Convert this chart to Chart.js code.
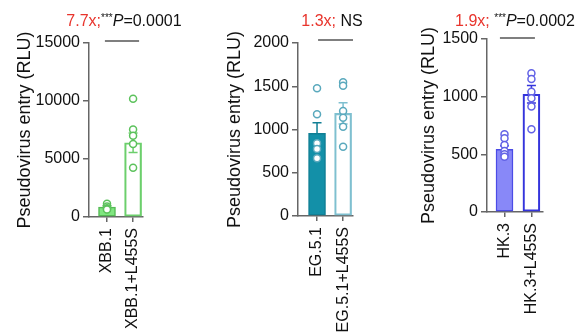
<!DOCTYPE html>
<html>
<head>
<meta charset="utf-8">
<script src="https://cdn.jsdelivr.net/npm/chart.js@4.4.1/dist/chart.umd.min.js"></script>
<style>
  html, body { margin:0; padding:0; background:#fff; }
  #wrap { position:relative; width:580px; height:332px; overflow:hidden; }
  .panel { position:absolute; top:0; }
</style>
</head>
<body>
<div id="wrap">
  <canvas id="c1" class="panel" width="190" height="332" style="left:0px"></canvas>
  <canvas id="c2" class="panel" width="190" height="332" style="left:190px"></canvas>
  <canvas id="c3" class="panel" width="200" height="332" style="left:380px"></canvas>
</div>
<script>
// ---------- Data ----------
const catsXBB = ['XBB.1', 'XBB.1+L455S'];
const meanXBB = [850, 6400];
const semXBB = [110, 850];
const ptsXBB = [[1150, 900, 750, 700, 650], [10200, 7550, 7000, 6300, 4250]];
const ticksXBB = [0, 5000, 10000, 15000];

const catsEG = ['EG.5.1', 'EG.5.1+L455S'];
const meanEG = [956, 1187];
const semEG = [123, 123];
const ptsEG = [[1476, 1176, 840, 775, 667], [1545, 1506, 1214, 1137, 1032, 801]];
const ticksEG = [0, 500, 1000, 1500, 2000];

const catsHK = ['HK.3', 'HK.3+L455S'];
const meanHK = [544, 1021];
const semHK = [30, 75];
const ptsHK = [[674, 639, 581, 529, 500, 480], [1203, 1153, 1043, 986, 914, 717]];
const ticksHK = [0, 500, 1000, 1500];

const noteXBB = [{t:'7.7x;', c:'#e8342c'}, {t:'***', sup:true}, {t:'P', it:true}, {t:'=0.0001'}];
const noteEG = [{t:'1.3x; ', c:'#e8342c'}, {t:'NS'}];
const noteHK = [{t:'1.9x; ', c:'#e8342c'}, {t:'***', sup:true}, {t:'P', it:true}, {t:'=0.0002'}];

const FONT = '"Liberation Sans", Arial, Helvetica, sans-serif';
const AXIS = '#666';

// ---------- Plugins ----------
const errorBars = {
  id: 'errorBars',
  beforeDatasetsDraw(chart, args, o) {
    const x = chart.scales.x, y = chart.scales.y, ctx = chart.ctx;
    ctx.save();
    ctx.lineWidth = 1.5;
    o.mean.forEach((m, i) => {
      const px = x.getPixelForValue(i);
      const top = y.getPixelForValue(m + o.sem[i]);
      const bot = y.getPixelForValue(m - o.sem[i]);
      ctx.strokeStyle = o.colors[i];
      ctx.beginPath();
      ctx.moveTo(px, top); ctx.lineTo(px, bot);
      ctx.moveTo(px - 4.5, top); ctx.lineTo(px + 4.5, top);
      ctx.moveTo(px - 4.5, bot); ctx.lineTo(px + 4.5, bot);
      ctx.stroke();
    });
    ctx.restore();
  }
};

const sigNote = {
  id: 'sigNote',
  afterDraw(chart, args, o) {
    const ctx = chart.ctx, x = chart.scales.x;
    ctx.save();
    // bracket line
    ctx.strokeStyle = '#555';
    ctx.lineWidth = 1.5;
    ctx.beginPath();
    ctx.moveTo(x.getPixelForValue(o.line[0]), o.lineY);
    ctx.lineTo(x.getPixelForValue(o.line[1]), o.lineY);
    ctx.stroke();
    // text pieces
    const fontOf = p => (p.it ? 'italic ' : '') + (p.sup ? '10px ' : '16px ') + FONT;
    let total = 0;
    o.parts.forEach(p => { ctx.font = fontOf(p); total += ctx.measureText(p.t).width; });
    let cx = o.cx - total / 2;
    ctx.textBaseline = 'alphabetic';
    o.parts.forEach(p => {
      ctx.font = fontOf(p);
      ctx.fillStyle = p.c || '#111';
      ctx.fillText(p.t, cx, p.sup ? o.ty - 5 : o.ty);
      cx += ctx.measureText(p.t).width;
    });
    ctx.restore();
  }
};

// ---------- Chart builder ----------
function makePanel(id, cats, mean, sem, pts, yTicks, s) {
  const pointData = [];
  pts.forEach((arr, i) => arr.forEach(v => pointData.push({x: i, y: v})));
  return new Chart(document.getElementById(id), {
    type: 'bar',
    data: {
      datasets: [
        {
          type: 'line', order: 0, showLine: false,
          data: pointData,
          pointRadius: 3.5, pointBorderWidth: 1.5,
          pointBackgroundColor: '#fff', pointBorderColor: s.point
        },
        {
          type: 'bar', order: 1,
          data: mean.map((v, i) => ({x: i, y: v})),
          backgroundColor: [s.fill, 'rgba(255,255,255,0)'],
          borderColor: [s.border, s.open],
          borderWidth: 1.5, borderSkipped: false,
          barThickness: 17
        }
      ]
    },
    options: {
      responsive: false, animation: false,
      layout: { padding: { left: s.padL, right: s.padR, top: s.top, bottom: 0 } },
      plugins: {
        legend: { display: false }, tooltip: { enabled: false },
        errorBars: { mean, sem, colors: [s.err, s.open] },
        sigNote: { parts: s.note, cx: s.cx, ty: 26, line: s.line, lineY: s.lineY }
      },
      scales: {
        x: {
          type: 'linear', min: s.xmin, max: s.xmax, offset: false,
          afterBuildTicks: sc => { sc.ticks = cats.map((c, i) => ({value: i})); },
          afterFit: sc => { sc.height = 332 - s.bottom; },
          grid: { offset: false, drawOnChartArea: false, drawTicks: true, tickLength: 5, color: AXIS, lineWidth: 1.5 },
          border: { display: true, color: AXIS, width: 1.5 },
          ticks: {
            autoSkip: false, minRotation: 90, maxRotation: 90, padding: 6,
            color: '#111', font: { family: FONT, size: 16 },
            callback: v => cats[v]
          }
        },
        y: {
          min: yTicks[0], max: yTicks[yTicks.length - 1],
          afterBuildTicks: sc => { sc.ticks = yTicks.map(v => ({value: v})); },
          afterFit: sc => { sc.width = s.axisX - s.padL; },
          grid: { drawOnChartArea: false, drawTicks: true, tickLength: 6, color: AXIS, lineWidth: 1.5 },
          border: { display: true, color: AXIS, width: 1.5 },
          ticks: { padding: 3, color: '#111', font: { family: FONT, size: 16 }, callback: v => String(v) },
          title: {
            display: true, text: 'Pseudovirus entry (RLU)', color: '#111',
            font: { family: FONT, size: 18 }, padding: { top: 0, bottom: 0 }
          }
        }
      }
    },
    plugins: [errorBars, sigNote]
  });
}

makePanel('c1', catsXBB, meanXBB, semXBB, ptsXBB, ticksXBB, {
  fill: '#80e680', border: '#55bb55', open: '#6ccf6c', point: '#5cc25c', err: '#55bb55',
  padL: 14, axisX: 89, padR: 47, top: 43, bottom: 217,
  xmin: -0.69, xmax: 1.38, note: noteXBB, cx: 124, line: [-0.08, 1.23], lineY: 41
});
makePanel('c2', catsEG, meanEG, semEG, ptsEG, ticksEG, {
  fill: '#1390a8', border: '#117f95', open: '#7fc0d0', point: '#5aa9bd', err: '#117f95',
  padL: 34, axisX: 108, padR: 27, top: 43, bottom: 216,
  xmin: -0.73, xmax: 1.38, note: noteEG, cx: 142, line: [0.04, 1.38], lineY: 40
});
makePanel('c3', catsHK, meanHK, semHK, ptsHK, ticksHK, {
  fill: '#8888f8', border: '#4b4be6', open: '#3434dc', point: '#6262e6', err: '#4b4be6',
  padL: 38, axisX: 107, padR: 37, top: 39, bottom: 212,
  xmin: -0.65, xmax: 1.43, note: noteHK, cx: 135, line: [-0.17, 1.13], lineY: 38
});
</script>
</body>
</html>
